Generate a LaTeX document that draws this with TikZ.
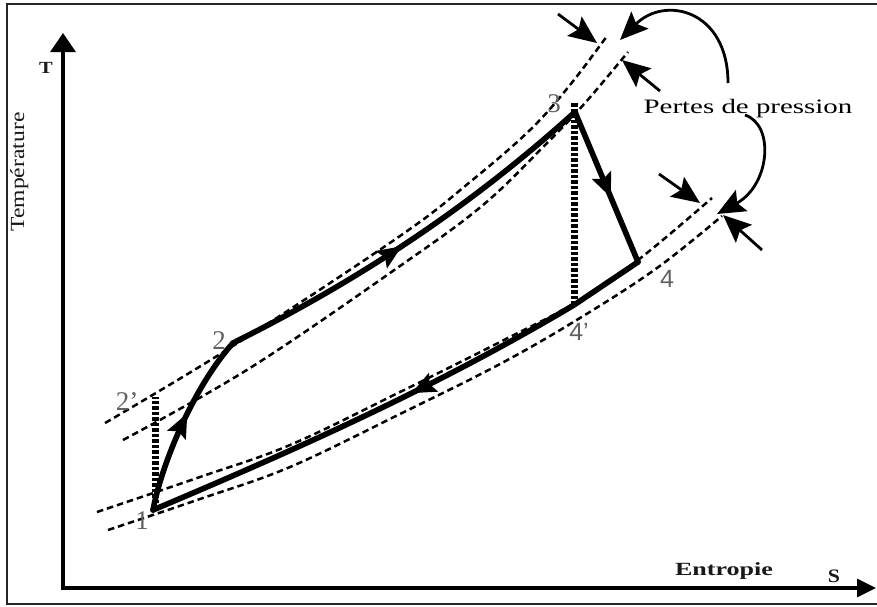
\documentclass[tikz,border=0pt]{standalone}
\usepackage{fontspec}
\setmainfont{Liberation Serif}
\newfontfamily\labsans{Liberation Sans}
\usepackage{graphicx}
\usetikzlibrary{arrows.meta,decorations.markings}
\begin{document}
\begin{tikzpicture}[x=1pt,y=-1pt,
  frame/.style={line width=2.6pt, draw=black!85},
  axis/.style={line width=3.2pt, line join=miter},
  cyc/.style={line width=5.6pt, line cap=round, line join=round},
  isobar/.style={line width=2.5pt, dash pattern=on 6.5pt off 4pt},
  dotv/.style={line width=7pt, dash pattern=on 3.5pt off 2pt},
  midarrow/.style={postaction={decorate}, decoration={markings, mark=at position #1 with {\arrow{Stealth[length=24pt,width=20pt,inset=4pt]}}}},
  pointer/.style={line width=2.8pt, -{Stealth[length=28pt,width=24pt,inset=5pt]}},
  lab/.style={inner sep=0pt, text=black!62, font=\fontsize{27}{27}\selectfont},
  labs/.style={inner sep=0pt, text=black!62, font=\labsans\fontsize{25}{25}\selectfont},
  axlab/.style={inner sep=0pt, text=black!90},
]
\useasboundingbox (0,0) rectangle (877,606);

% frame
\draw[frame] (884,4) -- (7,4) -- (7,604) -- (884,604);

% axes
\coordinate (O) at (63,588);
\coordinate (Ty) at (63,33);
\coordinate (Sx) at (876,588);
\draw[axis, {Triangle[length=19pt,width=25pt]}-{Triangle[length=19pt,width=18pt]}] (Ty) -- (O) -- (Sx);

\node[axlab, font=\bfseries\fontsize{17}{17}\selectfont] (tT) at (46,68) {\scalebox{1.2}[1]{T}};
\node[axlab, font=\bfseries\fontsize{19}{19}\selectfont] (tS) at (834,576) {\scalebox{1.15}[1]{S}};
\node[axlab, anchor=base, font=\bfseries\fontsize{18.6}{19}\selectfont] (tEnt) at (724,575) {\scalebox{1.4}[1]{Entropie}};
\node[axlab, anchor=base, rotate=90, font=\fontsize{20}{20}\selectfont] (tTemp) at (24,172) {\scalebox{1.18}[1]{Température}};
\node[axlab, anchor=base, text=black, font=\fontsize{20.5}{21}\selectfont] (tPertes) at (748,113) {\scalebox{1.41}[1]{Pertes de pression}};

% isobars (dashed)
\draw[isobar] plot[smooth, tension=0.6] coordinates {(105,423) (233,346) (400,236) (470,182) (530,130) (570,85) (607,36)};
\draw[isobar] plot[smooth, tension=0.6] coordinates {(123,440) (250,368) (400,266) (483,205) (547,143) (585,103) (628,52)};
\draw[isobar] plot[smooth, tension=0.6] coordinates {(97,512) (200,477) (290,445) (400,392) (500,342) (573,304) (638,260) (712,198)};
\draw[isobar] plot[smooth, tension=0.6] coordinates {(108,530) (200,499) (290,467) (400,414) (500,364) (580,318) (657,268) (722,216)};

% cycle points
\coordinate (p1) at (153,510);
\coordinate (p1top) at (155,503);
\coordinate (p2) at (233,343);
\coordinate (p2s) at (155,397);
\coordinate (p3) at (575,112);
\coordinate (p3top) at (574,103);
\coordinate (p4) at (638,262);
\coordinate (p4s) at (574,305);

% isentropic (dotted)
\draw[dotv] (p1top) -- (p2s);
\draw[dotv] (p3top) -- (p4s);

% real cycle
\draw[cyc, midarrow=0.55] (p1) .. controls (162,462) and (195,385) .. (p2);
\draw[cyc, midarrow=0.47] (p2) .. controls (347,286) and (461,215) .. (p3);
\draw[cyc, midarrow=0.57] (p3) -- (p4);
\draw[cyc, midarrow=0.48] (p4) -- (p4s) .. controls (433,389) and (290,452) .. (p1);

% labels
\node[lab] (l1) at (142,521) {1};
\node[lab] (l2) at (219,341) {2};
\node[lab] (l2s) at (127,402) {2’};
\node[lab] (l3) at (554,104) {3};
\node[labs] (l4) at (667,279) {4};
\node[labs] (l4s) at (579,332) {4’};

% pressure-loss pointers
\coordinate (a1s) at (558,14);  \coordinate (a1e) at (597,43);
\coordinate (a2s) at (660,91);  \coordinate (a2e) at (622,60);
\coordinate (a3s) at (659,174); \coordinate (a3e) at (700,203);
\coordinate (a4s) at (762,250); \coordinate (a4e) at (723,215);
\draw[pointer] (a1s) -- (a1e);
\draw[pointer] (a2s) -- (a2e);
\draw[pointer] (a3s) -- (a3e);
\draw[pointer] (a4s) -- (a4e);

\coordinate (c1s) at (728,83);  \coordinate (c1e) at (620,40);
\coordinate (c2s) at (745,115); \coordinate (c2e) at (717,214);
\draw[pointer] (c1s) .. controls (728,10) and (665,-5) .. (c1e);
\draw[pointer] (c2s) .. controls (775,125) and (770,185) .. (c2e);
\end{tikzpicture}
\end{document}
